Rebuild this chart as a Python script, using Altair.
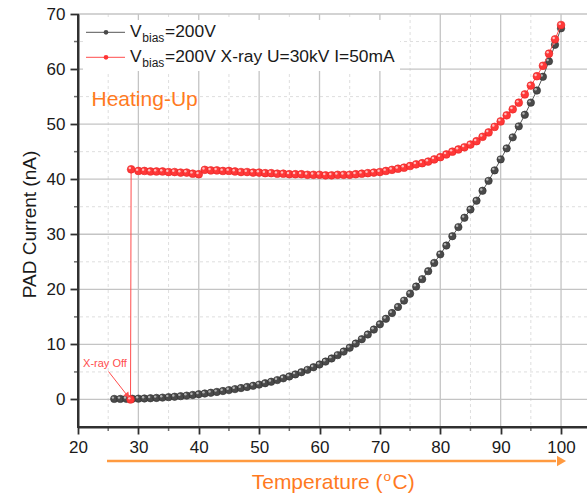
import altair as alt
import pandas as pd

# ---------------- data ----------------
temp_black = list(range(26, 101))
current_black = [0.10, 0.10, 0.12, 0.13, 0.15, 0.18, 0.22, 0.28, 0.34, 0.42,
                 0.50, 0.60, 0.70, 0.82, 0.95, 1.08, 1.22, 1.37, 1.53, 1.70,
                 1.88, 2.07, 2.27, 2.48, 2.70, 2.95, 3.22, 3.52, 3.84, 4.18,
                 4.55, 4.95, 5.38, 5.85, 6.35, 6.88, 7.45, 8.05, 8.70, 9.40,
                 10.15, 10.95, 11.80, 12.70, 13.65, 14.65, 15.70, 16.80, 17.95, 19.20,
                 20.50, 21.85, 23.30, 24.80, 26.35, 27.95, 29.65, 31.30, 33.00, 34.50,
                 36.10, 37.90, 39.70, 41.60, 43.60, 45.60, 47.60, 49.60, 51.70, 53.90,
                 56.10, 58.60, 61.40, 64.40, 67.40]

temp_red = [28.7, 28.8] + list(range(30, 101))
current_red = [0.0, 41.8,
               41.5, 41.5, 41.4, 41.4, 41.4, 41.3, 41.3, 41.2, 41.2, 41.0,
               40.9, 41.7, 41.6, 41.6, 41.5, 41.5, 41.4, 41.3, 41.3, 41.2,
               41.2, 41.1, 41.1, 41.0, 41.0, 40.9, 40.9, 40.9, 40.8, 40.8,
               40.8, 40.7, 40.7, 40.8, 40.8, 40.8, 40.9, 41.0, 41.1, 41.2,
               41.3, 41.5, 41.7, 41.9, 42.1, 42.4, 42.7, 42.9, 43.2, 43.6,
               44.0, 44.5, 45.0, 45.4, 45.8, 46.3, 46.9, 47.7, 48.5, 49.5,
               50.5, 51.6, 52.7, 53.9, 55.4, 57.0, 58.7, 60.6, 62.8, 65.4,
               68.0]

x_major = [20, 30, 40, 50, 60, 70, 80, 90, 100]
x_minor = [25, 35, 45, 55, 65, 75, 85, 95]
y_major = [0, 10, 20, 30, 40, 50, 60, 70]
y_minor = [5, 15, 25, 35, 45, 55, 65]

legend_labels = ["=200V", "=200V X-ray U=30kV I=50mA"]

# ---------------- layout ----------------
W, H = 509, 413
FONT = "Liberation Sans"
ORANGE = "#ff7a1f"
INK = "#303030"

black_df = pd.DataFrame({"T": temp_black, "I": current_black, "k": range(len(temp_black))})
red_df = pd.DataFrame({"T": temp_red, "I": current_red, "k": range(len(temp_red))})

xs = alt.Scale(domain=[20, 104.3], nice=False, zero=False)
ys = alt.Scale(domain=[-5, 70], nice=False, zero=False)

axis_common = dict(grid=False, title=None, format="d",
                   ticks=True, domain=True, zindex=2,
                   domainColor=INK, domainWidth=2, domainOpacity=1,
                   tickColor=INK, tickWidth=1.8, tickOpacity=1,
                   labelFont=FONT, labelFontSize=17, labelColor="#1a1a1a",
                   labelFlush=False, labelOverlap=False)
xaxis = alt.Axis(values=x_major, tickSize=7, labelPadding=5, **axis_common)
yaxis = alt.Axis(values=y_major, tickSize=8, labelPadding=5, **axis_common)


def X(field="v"):
    return alt.X(f"{field}:Q", scale=xs, axis=xaxis)


def Y(field="v"):
    return alt.Y(f"{field}:Q", scale=ys, axis=yaxis)


one = pd.DataFrame({"d": [0]})

# grid lines
gx_minor = alt.Chart(pd.DataFrame({"v": x_minor})).mark_rule(
    color="#dedede", strokeDash=[3, 3], strokeWidth=1).encode(x=X())
gy_minor = alt.Chart(pd.DataFrame({"v": y_minor})).mark_rule(
    color="#dedede", strokeDash=[3, 3], strokeWidth=1).encode(y=Y())
gx_major = alt.Chart(pd.DataFrame({"v": x_major[1:]})).mark_rule(
    color="#c4c4c4", strokeWidth=1.3).encode(x=X())
gy_major = alt.Chart(pd.DataFrame({"v": y_major})).mark_rule(
    color="#c4c4c4", strokeWidth=1.3).encode(y=Y())

# frame lines in pixel space, on the axis lines
dom_x = alt.Chart(one).mark_rule(color=INK, strokeWidth=2).encode(
    x=alt.value(-1), x2=alt.value(W), y=alt.value(H))
dom_y = alt.Chart(one).mark_rule(color=INK, strokeWidth=2).encode(
    x=alt.value(0), y=alt.value(0), y2=alt.value(H + 1))

# minor ticks
tx_minor = alt.Chart(pd.DataFrame({"v": x_minor, "b": [-5.0] * 8})).mark_tick(
    color=INK, thickness=1.5, size=4, orient="vertical", yOffset=2).encode(
    x=X(), y=Y("b"))
ty_minor = alt.Chart(pd.DataFrame({"v": y_minor, "b": [20.0] * 7})).mark_tick(
    color=INK, thickness=1.5, size=4, orient="horizontal", xOffset=-2).encode(
    y=Y(), x=X("b"))

# legend background
legend_box = alt.Chart(one).mark_rect(color="white").encode(
    x=alt.value(5), x2=alt.value(322), y=alt.value(6), y2=alt.value(57))

# data series
black_line = alt.Chart(black_df).mark_line(color="#555555", strokeWidth=1).encode(
    x=X("T"), y=Y("I"), order="k:Q")
black_pts = alt.Chart(black_df).mark_point(
    filled=True, size=55, fill="#4a4a4a", stroke="#2e2e2e", strokeWidth=0.6, opacity=1
).encode(x=X("T"), y=Y("I"))
black_hl = alt.Chart(black_df).mark_point(
    filled=True, size=6, color="#d0d0d0", opacity=0.8, xOffset=-1.3, yOffset=-1.3
).encode(x=X("T"), y=Y("I"))

red_line = alt.Chart(red_df).mark_line(color="#ff4d4d", strokeWidth=1).encode(
    x=X("T"), y=Y("I"), order="k:Q")
red_pts = alt.Chart(red_df).mark_point(
    filled=True, size=60, fill="#ff3838", stroke="#e82424", strokeWidth=0.6, opacity=1
).encode(x=X("T"), y=Y("I"))
red_hl = alt.Chart(red_df).mark_point(
    filled=True, size=6, color="#ffd6d6", opacity=0.85, xOffset=-1.3, yOffset=-1.3
).encode(x=X("T"), y=Y("I"))

# legend entries
leg = []
for i, (col, dot, lab) in enumerate([("#555555", "#4a4a4a", legend_labels[0]),
                                     ("#ff4d4d", "#ff3535", legend_labels[1])]):
    yy = 18.3 + 25 * i
    leg.append(alt.Chart(one).mark_rule(color=col, strokeWidth=1).encode(
        x=alt.value(8), x2=alt.value(47), y=alt.value(yy)))
    leg.append(alt.Chart(one).mark_point(filled=True, size=22, color=dot, opacity=1).encode(
        x=alt.value(28), y=alt.value(yy)))
    leg.append(alt.Chart(one).mark_text(text="V", font=FONT, fontSize=17.4, color="#1a1a1a",
                                        align="left", baseline="alphabetic").encode(
        x=alt.value(52), y=alt.value(yy + 4.6)))
    leg.append(alt.Chart(one).mark_text(text="bias", font=FONT, fontSize=12, color="#1a1a1a",
                                        align="left", baseline="alphabetic").encode(
        x=alt.value(64.3), y=alt.value(yy + 9.6)))
    leg.append(alt.Chart(one).mark_text(text=lab, font=FONT, fontSize=17.4, color="#1a1a1a",
                                        align="left", baseline="alphabetic").encode(
        x=alt.value(87), y=alt.value(yy + 4.6)))

heating = alt.Chart(one).mark_text(text="Heating-Up", font=FONT, fontSize=21, color=ORANGE,
                                   align="left", baseline="alphabetic").encode(
    x=alt.value(13.5), y=alt.value(92))

# X-ray Off annotation
xray_txt = alt.Chart(one).mark_text(text="X-ray Off", font=FONT, fontSize=11, color="#ff4d4d",
                                    align="center", baseline="middle").encode(
    x=alt.value(27), y=alt.value(350))
xray_arrow = alt.Chart(one).mark_rule(color="#ff4d4d", strokeWidth=1).encode(
    x=alt.value(30.5), y=alt.value(357.5), x2=alt.value(48.5), y2=alt.value(380.5))
xray_head = alt.Chart(one).mark_point(shape="triangle", filled=True, size=40, color="#ff4d4d",
                                      angle=141, opacity=1).encode(
    x=alt.value(49), y=alt.value(381))

# orange temperature arrow and title
t_arrow = alt.Chart(one).mark_rule(color="#ff9a40", strokeWidth=2.5).encode(
    x=alt.value(29), x2=alt.value(478), y=alt.value(447))
t_head = alt.Chart(one).mark_point(shape="triangle", filled=True, size=110, color="#ff9a40",
                                   angle=90, opacity=1).encode(
    x=alt.value(482), y=alt.value(447))
t_title1 = alt.Chart(one).mark_text(text="Temperature (", font=FONT, fontSize=21, color=ORANGE,
                                    align="left", baseline="alphabetic").encode(
    x=alt.value(173.7), y=alt.value(475.3))
t_title2 = alt.Chart(one).mark_text(text="o", font=FONT, fontSize=13.5, color=ORANGE,
                                    align="left", baseline="alphabetic").encode(
    x=alt.value(305.5), y=alt.value(467))
t_title3 = alt.Chart(one).mark_text(text="C)", font=FONT, fontSize=21, color=ORANGE,
                                    align="left", baseline="alphabetic").encode(
    x=alt.value(314.5), y=alt.value(475.3))

y_title = alt.Chart(one).mark_text(text="PAD Current (nA)", font=FONT, fontSize=19, color="#1a1a1a",
                                   align="center", baseline="middle", angle=270).encode(
    x=alt.value(-48), y=alt.value(210.5))

chart = alt.layer(
    gx_minor, gy_minor, gx_major, gy_major,
    legend_box, *leg, heating,
    black_line, black_pts, black_hl, red_line, red_pts, red_hl,
    xray_txt, xray_arrow, xray_head,
    t_arrow, t_head, t_title1, t_title2, t_title3, y_title,
    dom_x, dom_y, tx_minor, ty_minor
).properties(
    width=W, height=H,
    autosize=alt.AutoSizeParams(type="none"),
    padding={"left": 78, "top": 14, "right": 0, "bottom": 71},
    background="white"
).configure_view(stroke=None)

chart.save("out.html", embed_options={"renderer": "svg", "actions": False})
